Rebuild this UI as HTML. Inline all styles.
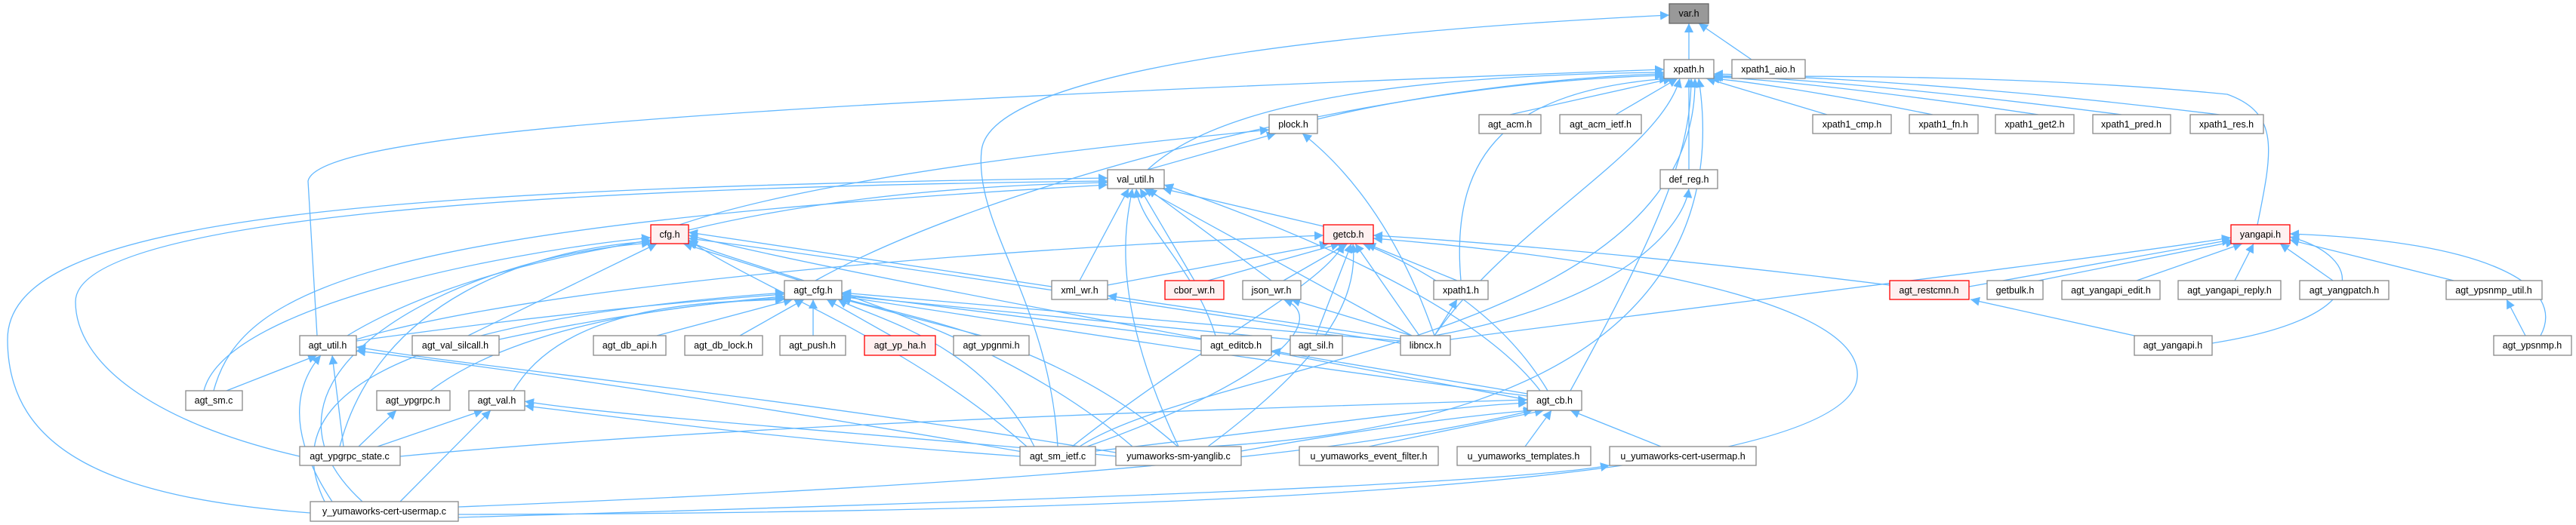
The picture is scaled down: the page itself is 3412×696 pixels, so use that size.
<!DOCTYPE html>
<html><head><meta charset="utf-8"><style>
html,body{margin:0;padding:0;background:#fff;}
svg{display:block;}
text{font-family:"Liberation Sans",Arial,sans-serif;font-size:12.5px;fill:#000;text-anchor:middle;}
.e{fill:none;stroke:#63b8ff;stroke-width:1.3;marker-end:url(#a);}
.n{fill:#fff;stroke:#888;stroke-width:1.3;}
.r{fill:#fff0f0;stroke:#f00;stroke-width:1.3;}
</style></head><body>
<svg width="3412" height="696" viewBox="0 0 3412 696" xmlns="http://www.w3.org/2000/svg">
<defs><marker id="a" markerUnits="userSpaceOnUse" markerWidth="14" markerHeight="12" refX="12" refY="6" orient="auto"><path d="M0,0 L12,6 L0,12 z" fill="#63b8ff"/></marker></defs>
<g>
<path class="e" d="M2237,79 L2237,31"/>
<path class="e" d="M2320,79 L2250,31"/>
<path class="e" d="M1401,592 C1390,400 1290,300 1300,200 C1310,90 1800,40 2211,20"/>
<path class="e" d="M1745,158 C1900,120 2100,100 2204,98"/>
<path class="e" d="M2000,152 L2215,104"/>
<path class="e" d="M2140,152 L2222,104"/>
<path class="e" d="M2420,152 L2260,104"/>
<path class="e" d="M2560,152 C2400,120 2300,106 2265,104"/>
<path class="e" d="M2700,152 C2450,115 2320,104 2268,102"/>
<path class="e" d="M2810,152 C2500,112 2330,102 2270,100"/>
<path class="e" d="M2940,152 C2600,110 2350,100 2270,98"/>
<path class="e" d="M2237,225 L2237,104"/>
<path class="e" d="M2990,298 C3010,200 3020,150 2950,125 C2700,100 2400,100 2270,102"/>
<path class="e" d="M1520,225 C1600,150 1800,100 2204,96"/>
<path class="e" d="M420,445 L408,240 C420,180 900,140 2204,92"/>
<path class="e" d="M1080,372 C1300,250 1800,110 2204,100"/>
<path class="e" d="M1900,445 C2000,300 2200,200 2225,104"/>
<path class="e" d="M1935,372 C1920,200 2000,120 2210,104"/>
<path class="e" d="M2080,518 C2200,300 2240,200 2240,104"/>
<path class="e" d="M1430,592 C1600,480 2250,450 2245,104"/>
<path class="e" d="M1600,592 C2200,560 2280,300 2250,104"/>
<path class="e" d="M411,680 C150,660 10,600 10,450 C10,300 400,250 1467,236"/>
<path class="e" d="M397,605 C200,560 100,480 100,400 C100,300 600,250 1467,240"/>
<path class="e" d="M283,518 C320,380 500,300 1467,245"/>
<path class="e" d="M912,305 C1100,260 1300,245 1467,242"/>
<path class="e" d="M1753,300 L1540,250"/>
<path class="e" d="M1430,372 L1495,250"/>
<path class="e" d="M1582,372 L1510,250"/>
<path class="e" d="M1684,372 L1520,250"/>
<path class="e" d="M1870,445 L1515,250"/>
<path class="e" d="M2040,518 C1950,400 1700,300 1542,245"/>
<path class="e" d="M1561,592 C1470,400 1490,300 1500,250"/>
<path class="e" d="M1610,445 C1580,350 1510,300 1505,250"/>
<path class="e" d="M1520,225 L1690,177"/>
<path class="e" d="M900,298 C1100,230 1500,190 1681,172"/>
<path class="e" d="M1900,445 C1850,300 1780,220 1725,177"/>
<path class="e" d="M1900,445 C2150,400 2230,300 2237,250"/>
<path class="e" d="M1060,372 L905,323"/>
<path class="e" d="M460,445 C600,360 800,330 862,318"/>
<path class="e" d="M620,445 L870,323"/>
<path class="e" d="M270,518 C300,400 700,330 862,315"/>
<path class="e" d="M450,592 C500,400 700,330 862,320"/>
<path class="e" d="M480,665 C300,500 600,340 862,322"/>
<path class="e" d="M1360,592 C1200,450 1000,380 912,318"/>
<path class="e" d="M1500,592 C1300,420 1000,360 912,320"/>
<path class="e" d="M2023,530 C1600,450 1100,360 912,312"/>
<path class="e" d="M1855,455 C1500,400 1100,340 912,316"/>
<path class="e" d="M1393,380 L912,308"/>
<path class="e" d="M1467,378 L1760,323"/>
<path class="e" d="M1600,372 L1775,323"/>
<path class="e" d="M1700,372 L1785,323"/>
<path class="e" d="M1930,372 L1810,323"/>
<path class="e" d="M1880,445 L1795,323"/>
<path class="e" d="M1743,445 L1790,323"/>
<path class="e" d="M2503,378 C2200,340 1950,320 1819,312"/>
<path class="e" d="M2050,518 C1980,400 1850,340 1805,323"/>
<path class="e" d="M472,450 C700,380 1300,330 1753,312"/>
<path class="e" d="M1420,592 C1600,450 1750,380 1780,323"/>
<path class="e" d="M1600,592 C1750,480 1800,400 1792,323"/>
<path class="e" d="M607,682 C1500,680 2450,650 2460,500 C2470,380 2000,330 1819,316"/>
<path class="e" d="M2608,380 L2955,318"/>
<path class="e" d="M2700,372 L2960,320"/>
<path class="e" d="M2830,372 L2970,323"/>
<path class="e" d="M2960,372 L2985,323"/>
<path class="e" d="M3090,372 L3020,323"/>
<path class="e" d="M3250,372 L3033,318"/>
<path class="e" d="M2930,455 C3150,420 3130,340 3033,314"/>
<path class="e" d="M3365,445 C3400,380 3300,320 3033,310"/>
<path class="e" d="M1921,450 C2300,400 2800,340 2955,315"/>
<path class="e" d="M2827,445 L2610,397"/>
<path class="e" d="M3345,445 L3320,397"/>
<path class="e" d="M472,452 C700,420 900,400 1039,390"/>
<path class="e" d="M661,450 C800,420 950,400 1039,393"/>
<path class="e" d="M870,445 L1050,397"/>
<path class="e" d="M980,445 L1065,397"/>
<path class="e" d="M1077,445 L1077,397"/>
<path class="e" d="M1180,445 L1095,397"/>
<path class="e" d="M1300,445 L1110,395"/>
<path class="e" d="M570,518 C700,420 950,400 1039,395"/>
<path class="e" d="M680,518 C750,400 950,400 1039,397"/>
<path class="e" d="M1591,450 L1115,390"/>
<path class="e" d="M1709,450 L1115,392"/>
<path class="e" d="M1855,452 L1115,388"/>
<path class="e" d="M1370,592 C1300,450 1150,420 1110,397"/>
<path class="e" d="M1560,592 C1400,450 1200,420 1115,395"/>
<path class="e" d="M2023,525 C1600,470 1300,420 1115,393"/>
<path class="e" d="M430,665 C350,500 600,420 1039,388"/>
<path class="e" d="M1860,450 L1467,392"/>
<path class="e" d="M1870,445 L1710,397"/>
<path class="e" d="M1440,592 C1700,500 1760,420 1700,397"/>
<path class="e" d="M1900,445 L1930,397"/>
<path class="e" d="M300,518 L420,471"/>
<path class="e" d="M455,592 L440,471"/>
<path class="e" d="M440,665 C370,560 400,500 425,471"/>
<path class="e" d="M1360,600 C900,520 600,480 472,465"/>
<path class="e" d="M1478,600 C1000,520 650,490 472,460"/>
<path class="e" d="M475,592 L525,544"/>
<path class="e" d="M500,592 L640,544"/>
<path class="e" d="M530,665 L650,544"/>
<path class="e" d="M1351,605 C1000,580 800,550 695,538"/>
<path class="e" d="M1480,605 C1100,570 800,550 695,532"/>
<path class="e" d="M2023,522 L1684,465"/>
<path class="e" d="M1451,598 C1700,570 1900,540 2023,534"/>
<path class="e" d="M1644,598 C1800,570 1950,550 2030,544"/>
<path class="e" d="M1813,592 L2045,544"/>
<path class="e" d="M2020,592 L2055,544"/>
<path class="e" d="M2200,592 L2080,544"/>
<path class="e" d="M530,605 C1000,560 1700,540 2023,530"/>
<path class="e" d="M607,672 C1400,640 1800,600 2030,544"/>
<path class="e" d="M607,686 C1500,660 2000,640 2132,617"/>
</g>
<g>
<rect x="2211" y="5" width="52" height="26" fill="#999" stroke="#666" stroke-width="1.3"/><text x="2237" y="22">var.h</text>
<rect class="n" x="2204" y="79" width="66" height="25"/><text x="2237" y="96">xpath.h</text>
<rect class="n" x="2294" y="79" width="97" height="25"/><text x="2342" y="96">xpath1_aio.h</text>
<rect class="n" x="1681" y="152" width="64" height="25"/><text x="1713" y="169">plock.h</text>
<rect class="n" x="1959" y="152" width="82" height="25"/><text x="2000" y="169">agt_acm.h</text>
<rect class="n" x="2066" y="152" width="108" height="25"/><text x="2120" y="169">agt_acm_ietf.h</text>
<rect class="n" x="2401" y="152" width="104" height="25"/><text x="2453" y="169">xpath1_cmp.h</text>
<rect class="n" x="2529" y="152" width="91" height="25"/><text x="2574" y="169">xpath1_fn.h</text>
<rect class="n" x="2643" y="152" width="104" height="25"/><text x="2695" y="169">xpath1_get2.h</text>
<rect class="n" x="2772" y="152" width="103" height="25"/><text x="2823" y="169">xpath1_pred.h</text>
<rect class="n" x="2901" y="152" width="97" height="25"/><text x="2949" y="169">xpath1_res.h</text>
<rect class="n" x="1467" y="225" width="75" height="25"/><text x="1504" y="242">val_util.h</text>
<rect class="n" x="2199" y="225" width="76" height="25"/><text x="2237" y="242">def_reg.h</text>
<rect class="r" x="862" y="298" width="50" height="25"/><text x="887" y="315">cfg.h</text>
<rect class="r" x="1753" y="298" width="66" height="25"/><text x="1786" y="315">getcb.h</text>
<rect class="r" x="2955" y="298" width="78" height="25"/><text x="2994" y="315">yangapi.h</text>
<rect class="n" x="1039" y="372" width="76" height="25"/><text x="1077" y="389">agt_cfg.h</text>
<rect class="n" x="1393" y="372" width="74" height="25"/><text x="1430" y="389">xml_wr.h</text>
<rect class="r" x="1543" y="372" width="78" height="25"/><text x="1582" y="389">cbor_wr.h</text>
<rect class="n" x="1646" y="372" width="77" height="25"/><text x="1684" y="389">json_wr.h</text>
<rect class="n" x="1899" y="372" width="72" height="25"/><text x="1935" y="389">xpath1.h</text>
<rect class="r" x="2503" y="372" width="105" height="25"/><text x="2555" y="389">agt_restcmn.h</text>
<rect class="n" x="2632" y="372" width="74" height="25"/><text x="2669" y="389">getbulk.h</text>
<rect class="n" x="2731" y="372" width="130" height="25"/><text x="2796" y="389">agt_yangapi_edit.h</text>
<rect class="n" x="2885" y="372" width="136" height="25"/><text x="2953" y="389">agt_yangapi_reply.h</text>
<rect class="n" x="3046" y="372" width="118" height="25"/><text x="3105" y="389">agt_yangpatch.h</text>
<rect class="n" x="3240" y="372" width="127" height="25"/><text x="3303" y="389">agt_ypsnmp_util.h</text>
<rect class="n" x="397" y="445" width="75" height="26"/><text x="434" y="462">agt_util.h</text>
<rect class="n" x="546" y="445" width="115" height="26"/><text x="603" y="462">agt_val_silcall.h</text>
<rect class="n" x="786" y="445" width="96" height="26"/><text x="834" y="462">agt_db_api.h</text>
<rect class="n" x="907" y="445" width="103" height="26"/><text x="958" y="462">agt_db_lock.h</text>
<rect class="n" x="1033" y="445" width="87" height="26"/><text x="1076" y="462">agt_push.h</text>
<rect class="r" x="1145" y="445" width="94" height="26"/><text x="1192" y="462">agt_yp_ha.h</text>
<rect class="n" x="1263" y="445" width="100" height="26"/><text x="1313" y="462">agt_ypgnmi.h</text>
<rect class="n" x="1591" y="445" width="93" height="26"/><text x="1637" y="462">agt_editcb.h</text>
<rect class="n" x="1709" y="445" width="69" height="26"/><text x="1743" y="462">agt_sil.h</text>
<rect class="n" x="1855" y="445" width="66" height="26"/><text x="1888" y="462">libncx.h</text>
<rect class="n" x="2827" y="445" width="103" height="26"/><text x="2878" y="462">agt_yangapi.h</text>
<rect class="n" x="3303" y="445" width="103" height="26"/><text x="3354" y="462">agt_ypsnmp.h</text>
<rect class="n" x="246" y="518" width="75" height="26"/><text x="283" y="535">agt_sm.c</text>
<rect class="n" x="499" y="518" width="97" height="26"/><text x="547" y="535">agt_ypgrpc.h</text>
<rect class="n" x="621" y="518" width="74" height="26"/><text x="658" y="535">agt_val.h</text>
<rect class="n" x="2023" y="518" width="72" height="26"/><text x="2059" y="535">agt_cb.h</text>
<rect class="n" x="397" y="592" width="133" height="25"/><text x="463" y="609">agt_ypgrpc_state.c</text>
<rect class="n" x="1351" y="592" width="100" height="25"/><text x="1401" y="609">agt_sm_ietf.c</text>
<rect class="n" x="1478" y="592" width="166" height="25"/><text x="1561" y="609">yumaworks-sm-yanglib.c</text>
<rect class="n" x="1721" y="592" width="184" height="25"/><text x="1813" y="609">u_yumaworks_event_filter.h</text>
<rect class="n" x="1930" y="592" width="177" height="25"/><text x="2018" y="609">u_yumaworks_templates.h</text>
<rect class="n" x="2132" y="592" width="194" height="25"/><text x="2229" y="609">u_yumaworks-cert-usermap.h</text>
<rect class="n" x="411" y="665" width="196" height="26"/><text x="509" y="682">y_yumaworks-cert-usermap.c</text>
</g>
</svg>
</body></html>
